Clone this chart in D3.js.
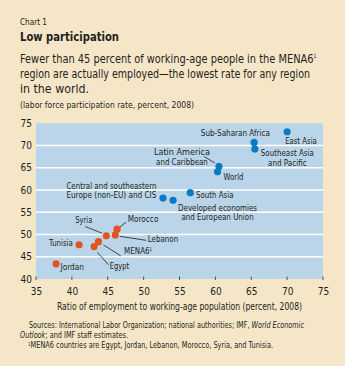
<!DOCTYPE html>
<html>
<head>
<meta charset="utf-8">
<script src="https://cdn.jsdelivr.net/npm/d3@7"></script>
<style>
  html, body { margin: 0; padding: 0; background: #f6e6c8; }
  svg { display: block; }
  text { font-family: "DejaVu Sans Condensed", "Roboto", sans-serif; fill: #231f20; }
</style>
</head>
<body>
<div id="chart-area"></div>
<script>
// data
const regions = ["East Asia", "Sub-Saharan Africa", "Southeast Asia and Pacific", "Latin America and Caribbean",
  "World", "South Asia", "Developed economies and European Union", "Central and southeastern Europe (non-EU) and CIS"];
const regionEmp = [70.0, 65.4, 65.5, 60.5, 60.3, 56.5, 54.1, 52.7];
const regionLfp = [73.1, 70.7, 69.2, 65.3, 64.1, 59.4, 57.7, 58.2];

const countries = ["Morocco", "Lebanon", "Syria", "MENA6", "Egypt", "Tunisia", "Jordan"];
const countryEmp = [46.3, 46.05, 44.8, 43.7, 43.1, 41.0, 37.8];
const countryLfp = [51.2, 49.9, 49.7, 48.4, 47.3, 47.7, 43.4];

const xTicks = [35, 40, 45, 50, 55, 60, 65, 70, 75];
const yTicks = [40, 45, 50, 55, 60, 65, 70, 75];

// label layout relative to each dot (pixels), with target text widths
const labelLayout = {
  "East Asia": { dx: -2, dy: 12.6, anchor: "start", lines: ["East Asia"], w: [31.7] },
  "Sub-Saharan Africa": { dx: 15.7, dy: -6.6, anchor: "end", lines: ["Sub-Saharan Africa"], w: [69] },
  "Southeast Asia and Pacific": { dx: 32.5, dy: 7.4, anchor: "middle", lines: ["Southeast Asia", "and Pacific"], w: [53, 38.7] },
  "Latin America and Caribbean": { dx: -37, dy: -11, anchor: "middle", lines: ["Latin America", "and Caribbean"], w: [56.7, 51.7], leader: [[-15, -10], [-4, -3.4]] },
  "World": { dx: 6, dy: 8.7, anchor: "start", lines: ["World"], w: [20] },
  "South Asia": { dx: 5.7, dy: 5.6, anchor: "start", lines: ["South Asia"], w: [37.6] },
  "Developed economies and European Union": { dx: 44.5, dy: 10.4, anchor: "middle", lines: ["Developed economies", "and European Union"], w: [79, 72.3] },
  "Central and southeastern Europe (non-EU) and CIS": { dx: -6.6, dy: -9.3, anchor: "end", lines: ["Central and southeastern", "Europe (non-EU) and CIS"], w: [90, 90] },
  "Morocco": { dx: 10.7, dy: -7, anchor: "start", lines: ["Morocco"], w: [30.6], leader: [[2, -1.5], [9, -7]] },
  "Lebanon": { dx: 32.4, dy: 7.4, anchor: "start", lines: ["Lebanon"], w: [30.6], leader: [[4.5, 1.4], [31, 5.4]] },
  "Syria": { dx: -22.5, dy: -13.3, anchor: "middle", lines: ["Syria"], w: [17], leader: [[-21, -9.3], [-4.3, -2.7]] },
  "MENA6": { dx: 25.7, dy: 12.3, anchor: "start", lines: ["MENA6"], w: [28], sup: "1", leader: [[5, 3.3], [22.4, 14.3]] },
  "Egypt": { dx: 15.7, dy: 22.6, anchor: "start", lines: ["Egypt"], w: [19.3], leader: [[3.4, 6], [14.4, 18.3]] },
  "Tunisia": { dx: -6.3, dy: 1.7, anchor: "end", lines: ["Tunisia"], w: [23.7] },
  "Jordan": { dx: 4.4, dy: 6, anchor: "start", lines: ["Jordan"], w: [23.3] }
};

const W = 345, H = 366;
const margin = { top: 123.3, right: 22, bottom: 87, left: 36 };
const width = W - margin.left - margin.right,
  height = H - margin.top - margin.bottom;

// squeeze a text to the width it has in the original condensed face
function fit(sel, w) {
  const len = sel.node().getComputedTextLength();
  if (len > w) sel.attr("textLength", w).attr("lengthAdjust", "spacingAndGlyphs");
  return sel;
}

const svg = d3.select("#chart-area").append("svg")
  .attr("width", W).attr("height", H);

svg.append("rect").attr("width", W).attr("height", H).attr("fill", "#f6e6c8");

// titles
fit(svg.append("text").attr("x", 20).attr("y", 25).style("font-size", "9px").text("Chart 1"), 27);
fit(svg.append("text").attr("x", 20).attr("y", 40.5).style("font-size", "13px").style("font-weight", "bold")
  .text("Low participation"), 99);

const sub = ["Fewer than 45 percent of working-age people in the MENA6", "region are actually employed\u2014the lowest rate for any region", "in the world."];
const subW = [296.5, 290, 69];
sub.forEach(function(s, i) {
  let t = svg.append("text").attr("x", 20).attr("y", 63.3 + i * 14.8).style("font-size", "12.3px").text(s);
  if (i === 0) t.append("tspan").attr("dy", -5).style("font-size", "6px").text("1");
  fit(t, subW[i]);
});
fit(svg.append("text").attr("x", 20).attr("y", 108).style("font-size", "9.3px")
  .text("(labor force participation rate, percent, 2008)"), 174);

const g = svg.append("g").attr("transform", "translate(" + margin.left + "," + margin.top + ")");

const x = d3.scaleLinear().domain([35, 75]).range([0, width]);
const y = d3.scaleLinear().domain([40, 75]).range([height, 0]);

g.append("rect").attr("width", width).attr("height", height).attr("fill", "#bad5ea");

// gridlines
g.selectAll(".grid").data(yTicks.filter(d => d > 40 && d < 75)).enter()
  .append("line").attr("class", "grid")
  .attr("x1", 0).attr("x2", width)
  .attr("y1", d => y(d)).attr("y2", d => y(d))
  .attr("stroke", "#fff").attr("stroke-width", 1.6);

// y axis
const yAxis = d3.axisLeft(y).tickValues(yTicks).tickSize(0).tickPadding(4);
const yg = g.append("g").call(yAxis);
yg.select(".domain").remove();
yg.selectAll("text").style("font-size", "10px").style("font-family", null).attr("fill", "#231f20");

// x axis
const xAxis = d3.axisBottom(x).tickValues(xTicks).tickSize(0).tickPadding(9);
const xg = g.append("g").attr("transform", "translate(0," + height + ")").call(xAxis);
xg.select(".domain").remove();
xg.selectAll("text").style("font-size", "10px").style("font-family", null).attr("fill", "#231f20");

g.selectAll(".xtick").data(xTicks).enter().append("line")
  .attr("x1", d => x(d)).attr("x2", d => x(d))
  .attr("y1", height - 2.5).attr("y2", height + 1)
  .attr("stroke", "#444").attr("stroke-width", 0.9);

fit(svg.append("text").attr("x", margin.left + width / 2).attr("y", 310)
  .attr("text-anchor", "middle").style("font-size", "10.3px")
  .text("Ratio of employment to working-age population (percent, 2008)"), 245);

// points
const regionData = regions.map((n, i) => ({ name: n, emp: regionEmp[i], lfp: regionLfp[i], color: "#0b7bc1" }));
const countryData = countries.map((n, i) => ({ name: n, emp: countryEmp[i], lfp: countryLfp[i], color: "#df5420" }));
const all = regionData.concat(countryData);

// leaders
all.forEach(function(d) {
  const L = labelLayout[d.name];
  if (!L || !L.leader) return;
  const px = x(d.emp), py = y(d.lfp);
  g.append("line")
    .attr("x1", px + L.leader[0][0]).attr("y1", py + L.leader[0][1])
    .attr("x2", px + L.leader[1][0]).attr("y2", py + L.leader[1][1])
    .attr("stroke", "#333").attr("stroke-width", 0.9);
});

g.selectAll(".dot").data(all).enter().append("circle")
  .attr("class", "dot")
  .attr("cx", d => x(d.emp)).attr("cy", d => y(d.lfp))
  .attr("r", 3.6).attr("fill", d => d.color);

// labels
all.forEach(function(d) {
  const L = labelLayout[d.name];
  const px = x(d.emp), py = y(d.lfp);
  L.lines.forEach(function(line, i) {
    let t = g.append("text")
      .attr("x", px + L.dx).attr("y", py + L.dy + i * 9.5)
      .attr("text-anchor", L.anchor)
      .style("font-size", "9px").text(line);
    if (L.sup) t.append("tspan").attr("dy", -3).style("font-size", "5px").text(L.sup);
    fit(t, L.w[i]);
  });
});

// sources
const src = svg.append("g").style("font-size", "8px");
let s1 = src.append("text").attr("x", 29).attr("y", 327.7);
s1.append("tspan").text("Sources: International Labor Organization; national authorities; IMF, ");
s1.append("tspan").style("font-style", "italic").text("World Economic");
fit(s1, 275);
let s2 = src.append("text").attr("x", 20).attr("y", 337.7);
s2.append("tspan").style("font-style", "italic").text("Outlook");
s2.append("tspan").text("; and IMF staff estimates.");
fit(s2, 108);
let s3 = src.append("text").attr("x", 28).attr("y", 348.3);
s3.append("tspan").attr("dy", -2.5).style("font-size", "5px").text("1");
s3.append("tspan").attr("dy", 2.5).text("MENA6 countries are Egypt, Jordan, Lebanon, Morocco, Syria, and Tunisia.");
fit(s3, 245);
</script>
</body>
</html>
